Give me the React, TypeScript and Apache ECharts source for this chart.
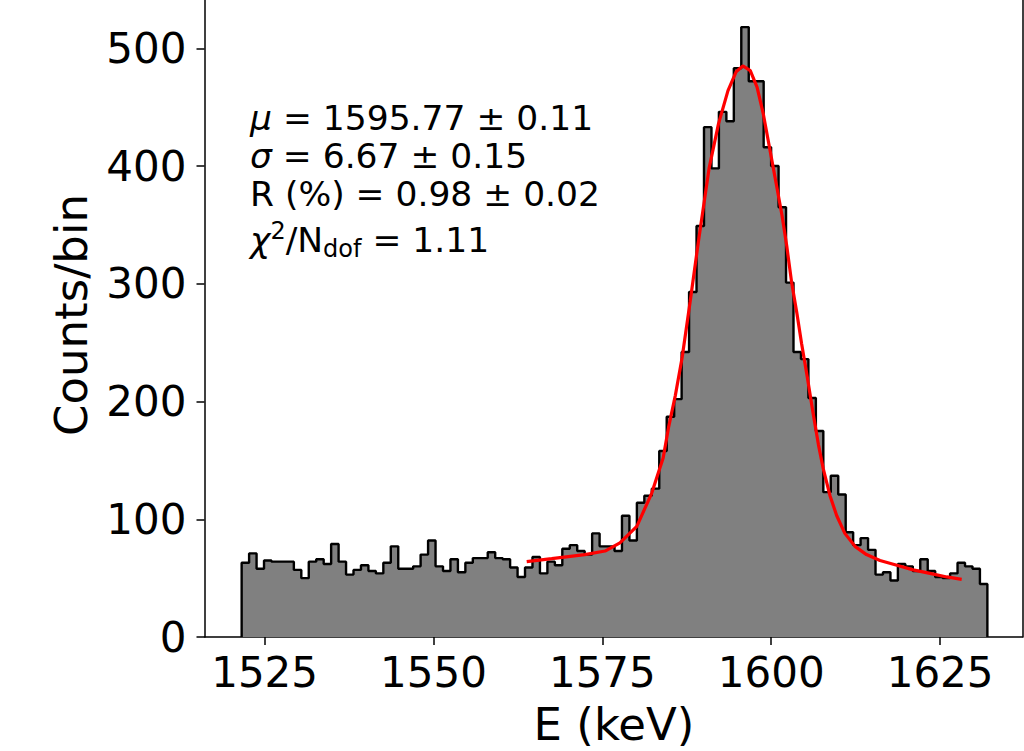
import React, { useEffect, useRef } from "react";
import * as echarts from "echarts";

// Histogram: 100 equal bins starting at binStart (keV)
const binStart = 1521.6;
const binWidth = 1.104;
const counts = [
  63, 71, 58, 65, 64, 64, 64, 57, 50, 64,
  66, 62, 79, 64, 53, 57, 61, 56, 54, 63,
  77, 58, 58, 60, 70, 82, 60, 56, 66, 55,
  63, 67, 67, 72, 67, 66, 59, 51, 59, 68,
  54, 64, 61, 75, 78, 73, 70, 88, 77, 77,
  73, 103, 82, 114, 120, 126, 158, 187, 202, 242,
  293, 349, 433, 398, 446, 438, 483, 518, 472, 472,
  416, 400, 365, 301, 242, 236, 203, 175, 123, 137,
  121, 89, 78, 84, 74, 53, 55, 48, 62, 60,
  56, 66, 56, 51, 50, 54, 63, 60, 58, 45,
];

// Fit curve (E keV, counts)
const fitE = [
  1563.8, 1567.5, 1572.4, 1575.4, 1577.6, 1580.1, 1582.3, 1584.0, 1584.8, 1585.8,
  1586.8, 1588.0, 1589.2, 1590.8, 1592.2, 1593.6, 1594.8, 1595.8, 1596.9, 1597.9,
  1598.8, 1599.8, 1600.8, 1601.6, 1602.3, 1603.0, 1603.8, 1604.5, 1605.3, 1606.2,
  1607.0, 1607.7, 1608.7, 1609.7, 1610.9, 1612.4, 1614.1, 1616.1, 1618.6, 1621.0,
  1623.5, 1626.0, 1628.2,
];
const fitY = [
  64, 66.5, 70, 73, 80, 94, 122, 152, 178, 205,
  237, 285, 335, 398, 436, 464, 480, 485, 481, 467,
  445, 414, 383, 358, 332, 302, 275, 249, 222, 190,
  163, 143, 120, 103, 88, 77, 70, 65, 61, 57,
  54, 51, 49,
];

const xTicks = [1525, 1550, 1575, 1600, 1625];
const yTicks = [0, 100, 200, 300, 400, 500];

const fitLines = [
  "{i|μ}{n| = 1595.77 ± 0.11}",
  "{i|σ}{n| = 6.67 ± 0.15}",
  "{n|R (%) = 0.98 ± 0.02}",
  "{i|χ}{sup|2}{n|/N}{sub|dof}{n| = 1.11}",
];

const FONT = "DejaVu Sans";

export default function App() {
  const ref = useRef<HTMLDivElement>(null);
  useEffect(() => {
    if (!ref.current) return;
    const chart = echarts.init(ref.current, undefined, { renderer: "svg" });

    const stepData: number[][] = [[binStart, 0]];
    counts.forEach((c, i) => stepData.push([binStart + i * binWidth, c]));
    stepData.push([binStart + counts.length * binWidth, 0]);
    const fitData = fitE.map((e, i) => [e, fitY[i]]);

    const rich = {
      i: { fontFamily: FONT, fontSize: 34.5, fontStyle: "italic", lineHeight: 42, fill: "#000" },
      n: { fontFamily: FONT, fontSize: 34.5, lineHeight: 42, fill: "#000" },
      sup: { fontFamily: FONT, fontSize: 24, lineHeight: 27, verticalAlign: "top", fill: "#000" },
      sub: { fontFamily: FONT, fontSize: 24, lineHeight: 27, verticalAlign: "bottom", fill: "#000" },
    };
    const lineY = [117.5, 156, 193.5, 240];

    const axisLineStyle = { color: "#000", width: 1.5 };
    const plain = (v: number) => String(v);

    chart.setOption({
      animation: false,
      backgroundColor: "#ffffff",
      grid: { left: 204.5, right: 1.5, top: 0, bottom: 114, containLabel: false },
      xAxis: {
        type: "value",
        min: 1516.1,
        max: 1637.2,
        axisLine: { show: true, onZero: false, lineStyle: axisLineStyle },
        axisTick: { show: true, inside: false, length: 8, lineStyle: axisLineStyle, customValues: xTicks },
        axisLabel: {
          customValues: xTicks,
          formatter: plain,
          fontSize: 42,
          fontFamily: FONT,
          color: "#000",
          margin: 14,
        },
        splitLine: { show: false },
      },
      yAxis: [
        {
          type: "value",
          min: 0,
          max: 541,
          axisLine: { show: true, onZero: false, lineStyle: axisLineStyle },
          axisTick: { show: true, inside: false, length: 8, lineStyle: axisLineStyle, customValues: yTicks },
          axisLabel: {
            customValues: yTicks,
            formatter: plain,
            fontSize: 42,
            fontFamily: FONT,
            color: "#000",
            margin: 18,
          },
          splitLine: { show: false },
        },
        {
          type: "value",
          position: "right",
          min: 0,
          max: 541,
          axisLine: { show: true, onZero: false, lineStyle: axisLineStyle },
          axisTick: { show: false },
          axisLabel: { show: false },
          splitLine: { show: false },
        },
      ],
      series: [
        {
          type: "line",
          data: stepData,
          step: "end",
          symbol: "none",
          lineStyle: { color: "#000", width: 2.4 },
          areaStyle: { color: "#808080", opacity: 1 },
          z: 2,
        },
        {
          type: "line",
          data: fitData,
          symbol: "none",
          smooth: false,
          lineStyle: { color: "#ff0000", width: 3.2 },
          z: 3,
        },
      ],
      graphic: [
        ...fitLines.map((t, k) => ({
          type: "text",
          x: 250,
          y: lineY[k],
          z: 10,
          style: {
            text: t,
            rich,
            fontFamily: FONT,
            fontSize: 34.5,
            fill: "#000",
            align: "left",
            verticalAlign: "middle",
          },
        })),
        {
          type: "text",
          x: 71,
          y: 315,
          rotation: Math.PI / 2,
          style: {
            text: "Counts/bin",
            fontFamily: FONT,
            fontSize: 45,
            fill: "#000",
            align: "center",
            verticalAlign: "middle",
          },
        },
        {
          type: "text",
          x: 614,
          y: 724,
          style: {
            text: "E (keV)",
            fontFamily: FONT,
            fontSize: 45,
            fill: "#000",
            align: "center",
            verticalAlign: "middle",
          },
        },
      ],
    });
    return () => chart.dispose();
  }, []);

  return (
    <div
      ref={ref}
      style={{ position: "absolute", left: 0, top: 0, width: 1024, height: 751 }}
    />
  );
}
